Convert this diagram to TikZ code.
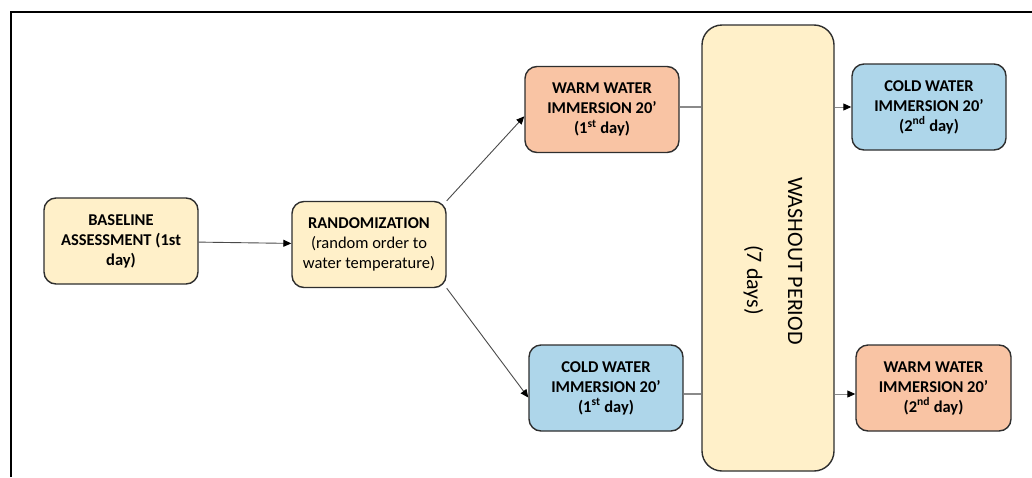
\documentclass[tikz,border=0pt]{standalone}
\usepackage{fontspec}
\setmainfont{Carlito}
\usepackage{tikz}
\usetikzlibrary{arrows.meta,positioning}
\definecolor{Cream}{HTML}{FFF0C9}
\definecolor{Warm}{HTML}{F9C4A4}
\definecolor{Cold}{HTML}{AED6EA}
\definecolor{BoxLine}{HTML}{2E2E2E}
\definecolor{LineGray}{HTML}{4A4A4A}
\definecolor{LinkGray}{HTML}{8A8A8A}

\begin{document}
\begin{tikzpicture}[x=1pt,y=-1pt,
  box/.style={draw=BoxLine,line width=1.4pt,rounded corners=12pt,minimum width=154pt,minimum height=86pt,inner sep=0pt,align=center,font=\fontsize{16.5}{20}\selectfont\bfseries},
  arr/.style={-{Triangle[length=8pt,width=7pt,color=black]},line width=0.9pt,color=LineGray},
  link/.style={line width=1.2pt,color=LinkGray}]
\useasboundingbox (0,0) rectangle (1032,477);
\draw[line width=2.2pt] (11,477) -- (11,12) -- (1032,12);
\node[box,fill=Cream] (base) at (121,241) {BASELINE\\ASSESSMENT (1st\\day)};
\node[box,fill=Cream] (rand) at (369,244.5) {RANDOMIZATION\\\mdseries(random order to\\\mdseries water temperature)};
\node[box,fill=Warm] (warmA) at (602,109.5) {WARM WATER\\IMMERSION 20’\\(1\textsuperscript{st} day)};
\node[box,fill=Cold] (coldA) at (606,388) {COLD WATER\\IMMERSION 20’\\(1\textsuperscript{st} day)};
\node[box,fill=Cream,minimum width=132pt,minimum height=446pt,rounded corners=20pt] (wash) at (768,248) {};
\node[rotate=-90,align=center,font=\fontsize{22}{26}\selectfont] (washtxt) at (773,261) {WASHOUT PERIOD\\[15pt]\hspace*{38pt}(7 days)};
\node[box,fill=Cold] (coldB) at (929,107) {COLD WATER\\IMMERSION 20’\\(2\textsuperscript{nd} day)};
\node[box,fill=Warm,minimum width=155pt] (warmB) at (933.5,388) {WARM WATER\\IMMERSION 20’\\(2\textsuperscript{nd} day)};
\draw[arr] (base) -- (rand);
\draw[arr] (rand.north east) -- (warmA.185);
\draw[arr] (rand.south east) -- (coldA.187);
\draw[link] ([yshift=2.5pt]warmA.east) -- ([yshift=2.5pt]warmA.east -| wash.west);
\draw[link] ([yshift=-6pt]coldA.east) -- ([yshift=-6pt]coldA.east -| wash.west);
\draw[arr,color=LinkGray] (coldB.west -| wash.east) -- (coldB.west);
\draw[arr,color=LinkGray] ([yshift=-6pt]warmB.west -| wash.east) -- ([yshift=-6pt]warmB.west);
\end{tikzpicture}
\end{document}
